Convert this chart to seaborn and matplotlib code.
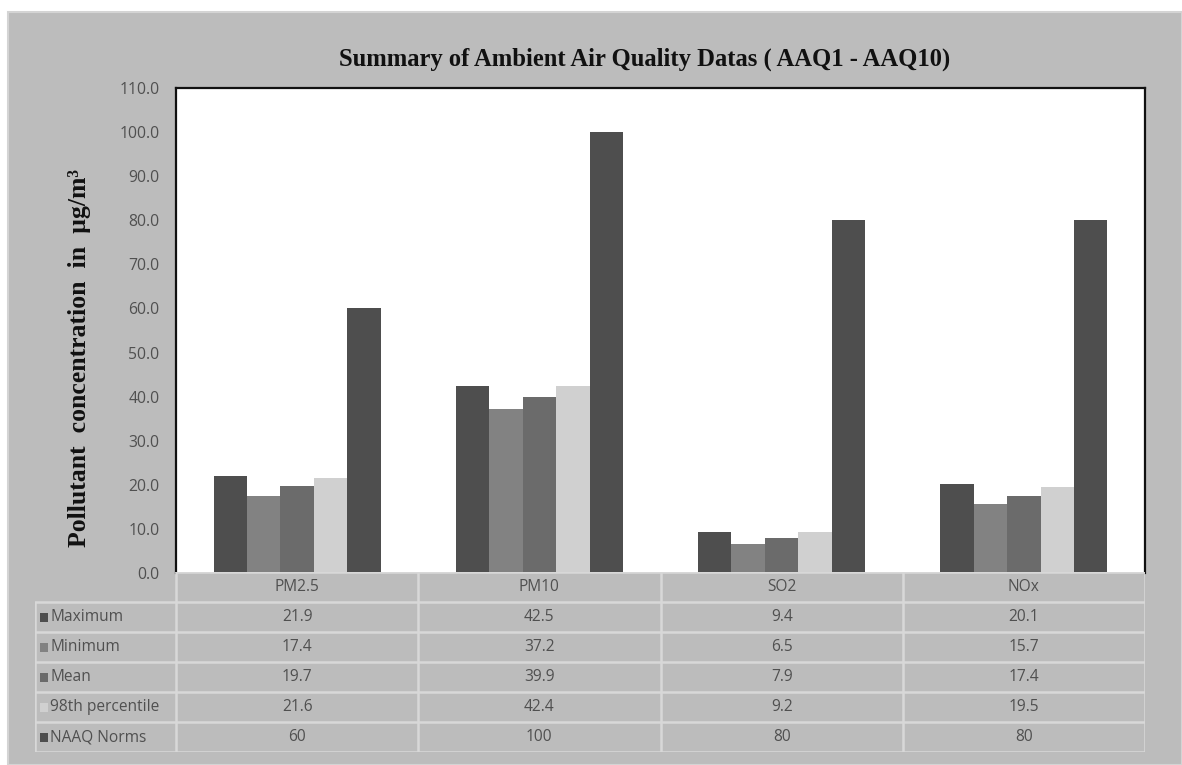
import matplotlib
matplotlib.use("Agg")
import matplotlib.pyplot as plt
from matplotlib.patches import Rectangle
import seaborn as sns
import pandas as pd

# Pollutant summary values (µg/m³)
pollutants = ["PM2.5", "PM10", "SO2", "NOx"]
maximum = [21.9, 42.5, 9.4, 20.1]
minimum = [17.4, 37.2, 6.5, 15.7]
mean = [19.7, 39.9, 7.9, 17.4]
percentile_98 = [21.6, 42.4, 9.2, 19.5]
naaq_norms = [60, 100, 80, 80]

series_names = ["Maximum", "Minimum", "Mean", "98th percentile", "NAAQ Norms"]
series_values = [maximum, minimum, mean, percentile_98, naaq_norms]
series_labels = [
    ["21.9", "42.5", "9.4", "20.1"],
    ["17.4", "37.2", "6.5", "15.7"],
    ["19.7", "39.9", "7.9", "17.4"],
    ["21.6", "42.4", "9.2", "19.5"],
    ["60", "100", "80", "80"],
]
y_ticks = [0, 10, 20, 30, 40, 50, 60, 70, 80, 90, 100, 110]

colors = ["#4e4e4e", "#828282", "#6b6b6b", "#d0d0d0", "#4e4e4e"]
panel_gray = "#bcbcbc"
grid_light = "#d8d8d8"
text_gray = "#505050"

records = []
for name, vals in zip(series_names, series_values):
    for p, v in zip(pollutants, vals):
        records.append({"Pollutant": p, "Series": name, "Value": v})
df = pd.DataFrame(records)

sns.set_theme(style="white")
plt.rcParams["font.family"] = ["Open Sans", "DejaVu Sans"]

W, H = 1182, 765
fig = plt.figure(figsize=(W / 100, H / 100), dpi=100, facecolor="white")

# gray chart panel behind everything
bg = fig.add_axes([0, 0, 1, 1], zorder=-10)
bg.set_xlim(0, W)
bg.set_ylim(H, 0)
bg.axis("off")
bg.add_patch(Rectangle((8, 12), W - 8, H - 12, facecolor=panel_gray,
                       edgecolor="#d4d4d4", linewidth=1.5))

# plot area
px_left, px_right, px_top, px_bottom = 176, 1145, 88, 573
ax = fig.add_axes([px_left / W, (H - px_bottom) / H,
                   (px_right - px_left) / W, (px_bottom - px_top) / H])
sns.barplot(data=df, x="Pollutant", y="Value", hue="Series", order=pollutants,
            hue_order=series_names, palette=colors, width=0.69, gap=0,
            saturation=1, edgecolor="none", linewidth=0, legend=False, ax=ax)
ax.set_facecolor("white")
ax.set_xlim(-0.5, 3.5)
ax.set_ylim(0, 110)
ax.set_yticks(y_ticks)
ax.set_yticklabels([f"{t:.1f}" for t in y_ticks], fontsize=11.3, color=text_gray)
ax.tick_params(axis="y", length=0, pad=12)
ax.set_xticks([])
ax.set_xlabel("")
ax.set_ylabel("")
for side in ["left", "top", "right"]:
    ax.spines[side].set_visible(True)
    ax.spines[side].set_color("#111111")
    ax.spines[side].set_linewidth(1.6)
ax.spines["bottom"].set_visible(False)

fig.text(645 / W, (H - 59) / H,
         "Summary of Ambient Air Quality Datas ( AAQ1 - AAQ10)",
         ha="center", va="center", fontsize=17.7, fontweight="bold",
         family="Liberation Serif", color="#111111")
fig.text(80 / W, (H - 358) / H, "Pollutant  concentration  in  µg/m³",
         rotation=90, ha="center", va="center", fontsize=18.5,
         fontweight="bold", family="Liberation Serif", color="#111111")

# data table under the axis
tb_left, tb_top, tb_bottom = 35, 572, 752
cat_w = (px_right - px_left) / 4
x0 = -0.5 - (px_left - tb_left) / cat_w
tax = fig.add_axes([tb_left / W, (H - tb_bottom) / H,
                    (px_right - tb_left) / W, (tb_bottom - tb_top) / H])
tax.set_xlim(x0, 3.5)
tax.set_ylim(6, 0)
tax.axis("off")
lw = 1.8
tax.plot([-0.5, 3.5], [0, 0], color=grid_light, lw=lw)
for r in range(1, 7):
    tax.plot([x0, 3.5], [r, r], color=grid_light, lw=lw, solid_capstyle="butt")
tax.plot([x0, x0], [1, 6], color=grid_light, lw=lw)
for c in range(5):
    tax.plot([c - 0.5, c - 0.5], [0, 6], color=grid_light, lw=lw)

fs = 11.2
for i, p in enumerate(pollutants):
    tax.text(i, 0.5, p, ha="center", va="center", fontsize=fs, color=text_gray)
for r, (name, col, labels) in enumerate(zip(series_names, colors, series_labels), start=1):
    yc = r + 0.5
    tax.add_patch(Rectangle((x0 + 0.022, yc - 0.15), 0.032, 0.30,
                            facecolor=col, edgecolor="none"))
    tax.text(x0 + 0.062, yc, name, ha="left", va="center",
             fontsize=fs, color=text_gray)
    for i, lab in enumerate(labels):
        tax.text(i, yc, lab, ha="center", va="center",
                 fontsize=fs, color=text_gray)

fig.savefig("out.png", dpi=100, facecolor=fig.get_facecolor())
